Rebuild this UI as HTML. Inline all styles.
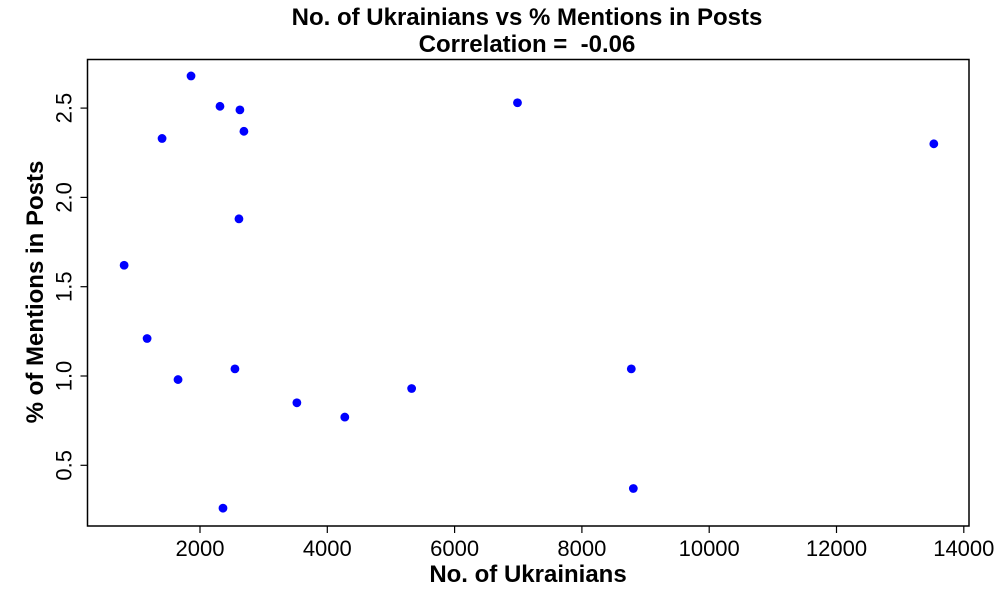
<!DOCTYPE html>
<html><head><meta charset="utf-8"><style>
html,body{margin:0;padding:0;background:#fff;}
svg text{font-family:"Liberation Sans",Arial,sans-serif;fill:#000;}
</style></head><body>
<svg id="chart" width="1000" height="600" viewBox="0 0 1000 600" xmlns="http://www.w3.org/2000/svg">
<rect width="1000" height="600" fill="#fff"/>
<text x="527" y="25" text-anchor="middle" font-size="24" font-weight="bold">No. of Ukrainians vs % Mentions in Posts</text>
<text x="527" y="52" text-anchor="middle" font-size="24" font-weight="bold" xml:space="preserve">Correlation =  -0.06</text>
<rect x="87.5" y="59.5" width="881.5" height="466.5" fill="none" stroke="#000" stroke-width="1.5"/>
<g id="xaxis"></g>
<g id="yaxis"></g>
<g id="points"></g>
<text x="528" y="582" text-anchor="middle" font-size="24" font-weight="bold">No. of Ukrainians</text>
<text transform="translate(43,292) rotate(-90)" text-anchor="middle" font-size="24" font-weight="bold">% of Mentions in Posts</text>
</svg>
<script>
const xValues = [1859, 2314, 2627, 2690, 1404, 6988, 13529, 2612, 808, 1169, 1655, 2549, 3522, 4275, 5325, 8776, 8808, 2361];
const yValues = [2.68, 2.51, 2.49, 2.37, 2.33, 2.53, 2.30, 1.88, 1.62, 1.21, 0.98, 1.04, 0.85, 0.77, 0.93, 1.04, 0.37, 0.26];
const xTicks = [2000, 4000, 6000, 8000, 10000, 12000, 14000];
const yTicks = [0.5, 1.0, 1.5, 2.0, 2.5];
const yTickLabels = ["0.5", "1.0", "1.5", "2.0", "2.5"];

const NS = "http://www.w3.org/2000/svg";
function xScale(v){ return 200 + (v - 2000) * (127.3 / 2000); }
function yScale(v){ return 376 - (v - 1) * 178.6; }
const bottom = 526, left = 87.5;

const xg = document.getElementById('xaxis');
xTicks.forEach(t => {
  const x = xScale(t);
  const ln = document.createElementNS(NS, 'line');
  ln.setAttribute('x1', x); ln.setAttribute('x2', x);
  ln.setAttribute('y1', bottom); ln.setAttribute('y2', bottom + 7);
  ln.setAttribute('stroke', '#000'); ln.setAttribute('stroke-width', '1.2');
  
  
  xg.appendChild(ln);
  const tx = document.createElementNS(NS, 'text');
  tx.setAttribute('x', x); tx.setAttribute('y', bottom + 30);
  tx.setAttribute('text-anchor', 'middle'); tx.setAttribute('font-size', '22');
  tx.textContent = String(t);
  
  
  xg.appendChild(tx);
});

const yg = document.getElementById('yaxis');
yTicks.forEach((t, i) => {
  const y = yScale(t);
  const ln = document.createElementNS(NS, 'line');
  ln.setAttribute('x1', left - 7); ln.setAttribute('x2', left);
  ln.setAttribute('y1', y); ln.setAttribute('y2', y);
  ln.setAttribute('stroke', '#000'); ln.setAttribute('stroke-width', '1.2');
  
  
  yg.appendChild(ln);
  const tx = document.createElementNS(NS, 'text');
  tx.setAttribute('transform', 'translate(' + (left - 16) + ',' + y + ') rotate(-90)');
  tx.setAttribute('text-anchor', 'middle'); tx.setAttribute('font-size', '22');
  tx.textContent = yTickLabels[i];
  
  
  yg.appendChild(tx);
});

const pg = document.getElementById('points');
xValues.forEach((xv, i) => {
  const c = document.createElementNS(NS, 'circle');
  c.setAttribute('cx', xScale(xv)); c.setAttribute('cy', yScale(yValues[i]));
  c.setAttribute('r', '4.4'); c.setAttribute('fill', '#0000ff');
  
  
  pg.appendChild(c);
});
</script>
</body></html>
